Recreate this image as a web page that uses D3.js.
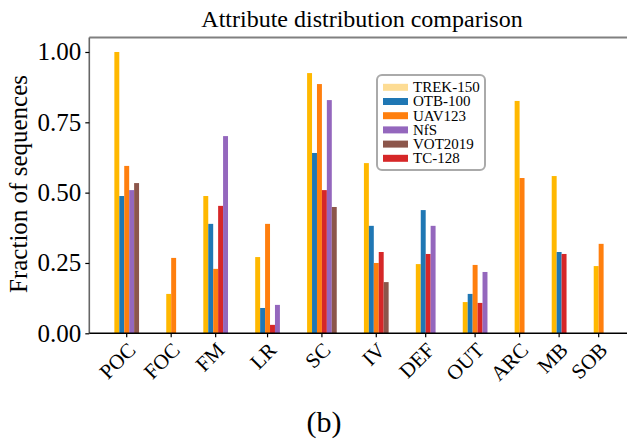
<!DOCTYPE html>
<html>
<head>
<meta charset="utf-8">
<script src="https://cdn.jsdelivr.net/npm/d3@7"></script>
<style>
  body { margin: 0; background: #fff; }
  svg { display: block; font-family: "Liberation Serif", "DejaVu Serif", serif; }
</style>
</head>
<body>
<svg width="627" height="439"></svg>
<script>
// attribute categories (x axis)
var categories = ["POC", "FOC", "FM", "LR", "SC", "IV", "DEF", "OUT", "ARC", "MB", "SOB"];

// fraction of sequences per dataset, 0 = attribute not annotated
var trek = [1.00, 0.14, 0.488, 0.271, 0.925, 0.605, 0.246, 0.111, 0.826, 0.559, 0.239];
var otb  = [0.488, 0, 0.389, 0.090, 0.641, 0.382, 0.438, 0.140, 0, 0.289, 0];
var uav  = [0.595, 0.268, 0.229, 0.389, 0.886, 0.250, 0, 0.243, 0.552, 0, 0.318];
var tc   = [0, 0, 0.453, 0.030, 0.509, 0.289, 0.282, 0.108, 0, 0.282, 0];
var nfs  = [0.509, 0, 0.701, 0.101, 0.829, 0, 0.382, 0.218, 0, 0, 0];
var vot  = [0.534, 0, 0, 0, 0.449, 0.182, 0, 0, 0, 0, 0];

var yTicks = [0, 0.25, 0.5, 0.75, 1.0];

// bar order inside a group
var series = [
  {name: "TREK-150", values: trek, color: "#ffb800", legendColor: "#fddc94"},
  {name: "OTB-100",  values: otb,  color: "#1f77b4", legendColor: "#1f77b4"},
  {name: "UAV123",   values: uav,  color: "#ff7f0e", legendColor: "#ff7f0e"},
  {name: "TC-128",   values: tc,   color: "#d62728", legendColor: "#d62728"},
  {name: "NfS",      values: nfs,  color: "#9467bd", legendColor: "#9467bd"},
  {name: "VOT2019",  values: vot,  color: "#8c564b", legendColor: "#8c564b"}
];
var legendOrder = ["TREK-150", "OTB-100", "UAV123", "NfS", "VOT2019", "TC-128"];

var svg = d3.select("svg");
var plotLeft = 89.3, plotTop = 37.5, plotBottom = 333.3;
var gapUnits = 5.5;

// pack the non-zero bars of each category, one unit per bar
var bars = [], groups = [];
var pos = 0;
categories.forEach(function(cat, i) {
  var start = pos;
  series.forEach(function(s) {
    if (s.values[i] > 0) {
      bars.push({cat: cat, unit: pos, value: s.values[i], color: s.color});
      pos += 1;
    }
  });
  groups.push({cat: cat, center: (start + pos) / 2});
  pos += gapUnits;
});
var totalUnits = pos - gapUnits;

var x = d3.scaleLinear().domain([0, totalUnits]).range([114.35, 114.35 + totalUnits * 4.942]);
var y = d3.scaleLinear().domain([0, 1.0515]).range([plotBottom, plotTop]);

// bars
svg.append("g")
  .selectAll("rect")
  .data(bars)
  .enter().append("rect")
    .attr("x", function(d) { return x(d.unit); })
    .attr("width", x(1) - x(0))
    .attr("y", function(d) { return y(d.value); })
    .attr("height", function(d) { return y(0) - y(d.value); })
    .attr("fill", function(d) { return d.color; });

// spines
svg.append("line").attr("x1", plotLeft).attr("x2", 627).attr("y1", plotTop).attr("y2", plotTop)
  .attr("stroke", "#808080").attr("stroke-width", 2);
svg.append("line").attr("x1", plotLeft).attr("x2", plotLeft).attr("y1", plotTop).attr("y2", plotBottom)
  .attr("stroke", "#666").attr("stroke-width", 1.6);

// y axis
var yAxis = svg.append("g")
  .attr("transform", "translate(" + plotLeft + ",0)")
  .call(d3.axisLeft(y).tickValues(yTicks).tickFormat(d3.format(".2f")).tickSize(4).tickPadding(4));
yAxis.select(".domain").remove();
yAxis.selectAll("text").attr("font-size", 25).attr("font-family", "Liberation Serif").attr("fill", "#000");
yAxis.selectAll("line").attr("stroke", "#000").attr("stroke-width", 1.2);

// x axis ticks
svg.append("line").attr("x1", plotLeft).attr("x2", 627).attr("y1", plotBottom).attr("y2", plotBottom)
  .attr("stroke", "#000").attr("stroke-width", 1.6);
var xt = svg.append("g").selectAll("g")
  .data(groups)
  .enter().append("g")
    .attr("transform", function(d) { return "translate(" + x(d.center) + "," + plotBottom + ")"; });
xt.append("line").attr("y1", 0).attr("y2", 4).attr("stroke", "#000").attr("stroke-width", 1.2);
xt.append("text")
  .attr("transform", "translate(0,8) rotate(-45)")
  .attr("text-anchor", "end")
  .attr("dy", "0.68em")
  .attr("font-size", 21)
  .text(function(d) { return d.cat; });

// titles
svg.append("text").attr("x", 362).attr("y", 27).attr("text-anchor", "middle")
  .attr("font-size", 24).text("Attribute distribution comparison");
svg.append("text").attr("transform", "translate(27,184) rotate(-90)").attr("text-anchor", "middle")
  .attr("font-size", 25).text("Fraction of sequences");
svg.append("text").attr("x", 324).attr("y", 432).attr("text-anchor", "middle")
  .attr("font-size", 30).text("(b)");

// legend
var legend = svg.append("g").attr("transform", "translate(377,75)");
legend.append("rect").attr("width", 108).attr("height", 95).attr("rx", 5)
  .attr("fill", "#fff").attr("stroke", "#aaa").attr("stroke-width", 2);
var row = legend.selectAll("g.row")
  .data(legendOrder.map(function(n) { return series.find(function(s) { return s.name === n; }); }))
  .enter().append("g")
    .attr("transform", function(d, i) { return "translate(0," + (12.3 + i * 14.2) + ")"; });
row.append("rect").attr("x", 6).attr("y", -3.5).attr("width", 25).attr("height", 7)
  .attr("fill", function(d) { return d.legendColor; });
row.append("text").attr("x", 36).attr("dy", "0.33em").attr("font-size", 15)
  .text(function(d) { return d.name; });
</script>
</body>
</html>
